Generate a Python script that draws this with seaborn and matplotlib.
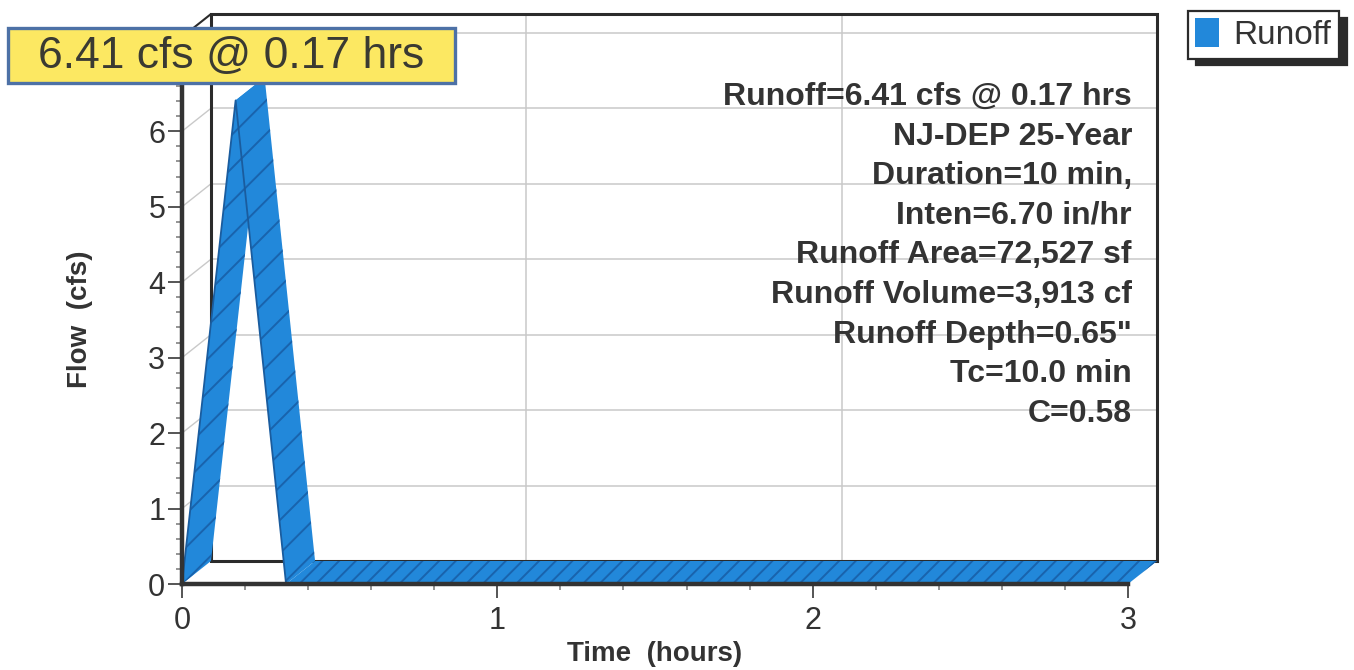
import matplotlib
matplotlib.use("Agg")
import matplotlib.pyplot as plt
import seaborn as sns
from matplotlib.patches import Patch, Rectangle
from matplotlib.ticker import MultipleLocator

# ---- hydrograph data ----
time_hr = [0.0, 0.17, 0.33, 3.0]
flow_cfs = [0.0, 6.41, 0.0, 0.0]
series_name = "Runoff"
peak_flow = 6.41
peak_time = 0.17
x_ticks = [0, 1, 2, 3]
y_ticks = [0, 1, 2, 3, 4, 5, 6]
info_lines = [
    "Runoff=6.41 cfs @ 0.17 hrs",
    "NJ-DEP 25-Year",
    "Duration=10 min,",
    "Inten=6.70 in/hr",
    "Runoff Area=72,527 sf",
    "Runoff Volume=3,913 cf",
    'Runoff Depth=0.65"',
    "Tc=10.0 min",
    "C=0.58",
]

# ---- style ----
sns.set_theme(style="white")
plt.rcParams["font.family"] = ["Liberation Sans", "DejaVu Sans"]
plt.rcParams["hatch.linewidth"] = 1.4

BLUE = "#2288da"
HATCH = "#1963ad"
EDGE = "#1a5c9e"
INK = "#333333"
GRID = "#c9c9c9"
FRAME = "#2b2b2b"

W, H = 1354, 670
fig = plt.figure(figsize=(W / 100, H / 100), dpi=100)
fig.patch.set_facecolor("white")

# front plane of the pseudo-3D chart (pixel layout)
left_px, right_px = 182, 1128
bottom_px, top_px = 584, 37
ax = fig.add_axes([left_px / W, (H - bottom_px) / H,
                   (right_px - left_px) / W, (bottom_px - top_px) / H])
XMAX, YMAX = 3.0, 7.25
ax.set_xlim(0, XMAX)
ax.set_ylim(0, YMAX)
ax.set_facecolor("none")

# depth offset of the back wall, converted to data units
depth_right_px, depth_up_px = 29, 23
dx = depth_right_px * XMAX / (right_px - left_px)
dy = depth_up_px * YMAX / (bottom_px - top_px)

# back wall grid
for yv in range(1, int(YMAX) + 1):
    ax.plot([dx, XMAX + dx], [yv + dy, yv + dy], color=GRID, lw=1.1,
            clip_on=False, zorder=1)
    ax.plot([0, dx], [yv, yv + dy], color=GRID, lw=1.0, clip_on=False, zorder=1)
for xv in x_ticks[1:-1]:
    ax.plot([xv + dx, xv + dx], [dy, YMAX + dy], color=GRID, lw=1.1,
            clip_on=False, zorder=1)

# back wall frame
ax.plot([dx, dx, XMAX + dx, XMAX + dx, dx],
        [dy, YMAX + dy, YMAX + dy, dy, dy],
        color=FRAME, lw=2.2, clip_on=False, zorder=1.2, solid_joinstyle="miter")
ax.plot([0, dx], [YMAX, YMAX + dy], color=FRAME, lw=1.5, clip_on=False, zorder=1.2)

# ribbon: one face per segment, front edge to back edge
for i in range(len(time_hr) - 1):
    t0, t1 = time_hr[i], time_hr[i + 1]
    f0, f1 = flow_cfs[i], flow_cfs[i + 1]
    flat = f0 == f1
    ax.fill([t0, t1, t1 + dx, t0 + dx], [f0, f1, f1 + dy, f0 + dy],
            facecolor=BLUE, edgecolor=HATCH, linewidth=0,
            hatch="//" if flat else "/", clip_on=False, zorder=2 + i * 0.1)

# front edge of the ribbon
sns.lineplot(x=time_hr, y=flow_cfs, ax=ax, color=EDGE, lw=1.3,
             legend=False, zorder=2.6, clip_on=False)

# front axes
for s in ["top", "right"]:
    ax.spines[s].set_visible(False)
for s in ["left", "bottom"]:
    ax.spines[s].set_color(INK)
    ax.spines[s].set_linewidth(3.2)
    ax.spines[s].set_zorder(3)

ax.set_xticks(x_ticks)
ax.set_yticks(y_ticks)
ax.xaxis.set_minor_locator(MultipleLocator(0.2))
ax.yaxis.set_minor_locator(MultipleLocator(0.2))
ax.tick_params(axis="both", which="major", direction="out", length=10,
               width=1.4, color="#555555", labelsize=22, labelcolor=INK,
               bottom=True, left=True)
ax.tick_params(axis="both", which="minor", direction="out", length=4.5,
               width=1.1, color="#777777", bottom=True, left=True)
ax.tick_params(axis="x", which="major", pad=6)
ax.tick_params(axis="y", which="major", pad=2)
ax.set_xlabel("")
ax.set_ylabel("")

fig.text(655 / W, 1 - 654 / H, "Time  (hours)", ha="center", va="center",
         fontsize=20, fontweight="bold", color=INK)
fig.text(80 / W, 1 - 319 / H, "Flow  (cfs)", ha="center", va="center",
         rotation=90, fontsize=20, fontweight="bold", color=INK)

# summary block
for k, line in enumerate(info_lines):
    fig.text(1132 / W, 1 - (97 + 39.6 * k) / H, line, ha="right", va="center",
             fontsize=23, fontweight="bold", color=INK, zorder=4)

# peak callout
fig.patches.append(Rectangle((8 / W, 1 - 83 / H), 447 / W, 55 / H,
                             transform=fig.transFigure, facecolor="#fce862",
                             edgecolor="#4d71a6", linewidth=2.4, zorder=5))
fig.text(231 / W, 1 - 56 / H, f"{peak_flow:.2f} cfs @ {peak_time:.2f} hrs",
         ha="center", va="center", fontsize=32, color="#3a3a32", zorder=6)

# legend
leg = fig.legend(handles=[Patch(facecolor=BLUE, edgecolor="none", label=series_name)],
                 loc="upper left", bbox_to_anchor=(1188 / W, 1 - 11 / H),
                 fontsize=24, frameon=True, fancybox=False, framealpha=1,
                 edgecolor=FRAME, handlelength=0.7, handleheight=0.95,
                 handletextpad=0.45, borderpad=0.22, borderaxespad=0,
                 shadow={"ox": 6, "oy": -5, "facecolor": FRAME,
                         "edgecolor": FRAME, "alpha": 1})
leg.get_frame().set_linewidth(1.6)
for t in leg.get_texts():
    t.set_color(INK)

fig.savefig("out.png", dpi=100, facecolor="white")
